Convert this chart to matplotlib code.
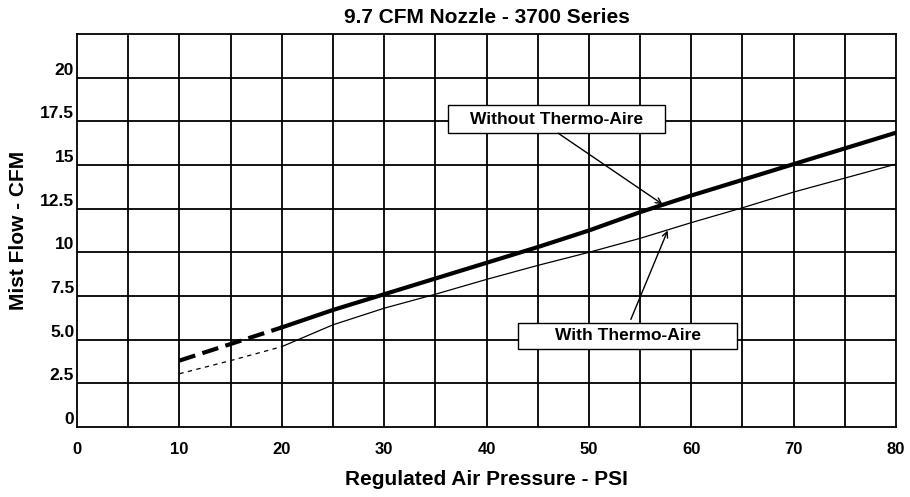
import matplotlib
matplotlib.use("Agg")
import numpy as np
import matplotlib.pyplot as plt
from matplotlib.patches import Rectangle

plt.rcParams.update({"font.family": ["Liberation Sans", "DejaVu Sans"],
                     "font.weight": "bold"})

# air pressure (PSI) and mist flow (CFM)
psi = [10, 15, 20, 25, 30, 35, 40, 45, 50, 55, 60, 65, 70, 75, 80]
without_ta = [3.8, 4.75, 5.7, 6.7, 7.6, 8.5, 9.4, 10.3, 11.25, 12.3, 13.25, 14.15, 15.05, 15.95, 16.85]
with_ta = [3.05, 3.8, 4.6, 5.85, 6.8, 7.6, 8.45, 9.25, 10.0, 10.8, 11.7, 12.55, 13.45, 14.25, 15.05]
split = 2  # dashed from 10 to 20 PSI, solid after

x_ticks = list(range(0, 81, 10))
y_ticks = [0, 2.5, 5, 7.5, 10, 12.5, 15, 17.5, 20]
y_tick_labels = ["0", "2.5", "5.0", "7.5", "10", "12.5", "15", "17.5", "20"]

fig = plt.figure(figsize=(9.1, 4.97), dpi=100)
ax = fig.add_axes([77 / 910, 1 - 427 / 497, 819 / 910, 393 / 497])
ax.set_xlim(0, 80)
ax.set_ylim(0, 22.5)

# grid every 5 psi / 2.5 cfm
for gx in np.arange(5, 80, 5):
    ax.axvline(gx, color="black", lw=1.3, zorder=1)
for gy in np.arange(2.5, 22.5, 2.5):
    ax.axhline(gy, color="black", lw=1.3, zorder=1)
for s in ax.spines.values():
    s.set_linewidth(1.3)

ax.plot(psi[:split + 1], without_ta[:split + 1], color="black", lw=3.0,
        dashes=(4, 1.8), zorder=3)
ax.plot(psi[split:], without_ta[split:], color="black", lw=3.0, zorder=3)
ax.plot(psi[:split + 1], with_ta[:split + 1], color="black", lw=0.9,
        dashes=(3.5, 3.5), zorder=3)
ax.plot(psi[split:], with_ta[split:], color="black", lw=0.9, zorder=3)

ax.set_xticks(x_ticks)
ax.set_xticklabels([str(v) for v in x_ticks], fontsize=12, fontweight="bold")
ax.set_yticks(y_ticks)
ax.set_yticklabels(y_tick_labels, fontsize=12.5, fontweight="bold")
for lab in ax.get_yticklabels():
    lab.set_va("bottom")
ax.tick_params(axis="both", length=0)
ax.tick_params(axis="x", pad=11)
ax.tick_params(axis="y", pad=2)

# label boxes (data units) and arrows
boxes = [
    ("Without Thermo-Aire", 36.2, 16.82, 21.2, 1.6, (47.0, 16.82), (57.2, 12.75)),
    ("With Thermo-Aire", 43.1, 4.45, 21.4, 1.52, (54.1, 6.16), (57.7, 11.25)),
]
for txt, bx, by, bw, bh, a0, a1 in boxes:
    ax.add_patch(Rectangle((bx, by), bw, bh, facecolor="white", edgecolor="black",
                           lw=1.0, zorder=4))
    ax.text(bx + bw / 2, by + bh / 2, txt, ha="center", va="center", fontsize=12.5,
            fontweight="bold", zorder=5)
    ax.annotate("", xy=a1, xytext=a0,
                arrowprops=dict(arrowstyle="->", color="black", lw=1.0,
                                mutation_scale=10, shrinkA=0, shrinkB=0), zorder=5)

ax.set_title("9.7 CFM Nozzle - 3700 Series", fontsize=15, fontweight="bold", pad=8)
ax.set_xlabel("Regulated Air Pressure - PSI", fontsize=15, fontweight="bold", labelpad=9)
ax.set_ylabel("Mist Flow - CFM", fontsize=15, fontweight="bold", labelpad=9)

fig.savefig("out.png", dpi=100, facecolor="white")
